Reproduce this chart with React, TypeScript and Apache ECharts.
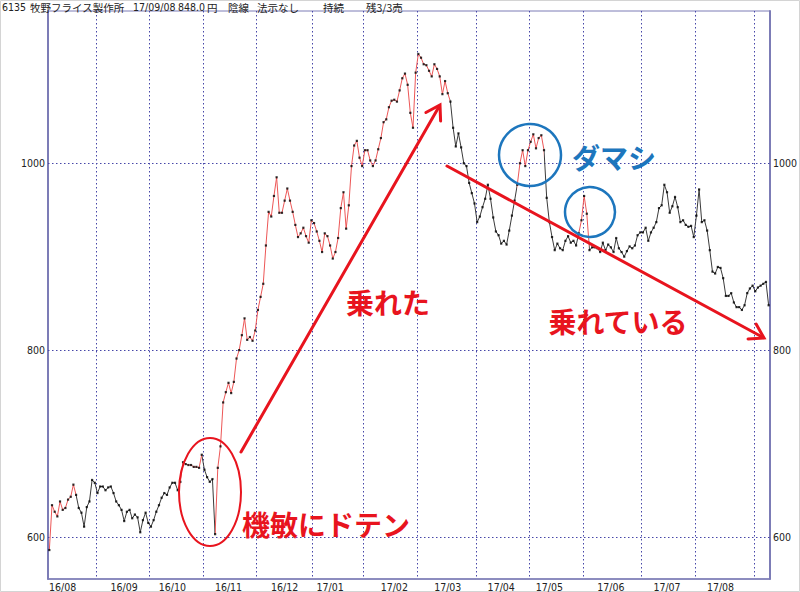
import React, { useEffect, useRef } from "react";
import * as echarts from "echarts";

// Daily closing prices (yen)
const prices: number[] = [
  586, 634, 627, 622, 638, 629, 631, 640, 643, 656,
  645, 631, 626, 611, 632, 638, 661, 658, 647, 654,
  654, 650, 653, 654, 647, 638, 634, 629, 617, 627,
  629, 620, 624, 621, 605, 618, 626, 615, 611, 618,
  627, 634, 642, 647, 645, 653, 658, 658, 650, 659,
  680, 678, 677, 677, 675, 675, 674, 688, 672, 664,
  659, 662, 603, 674, 697, 744, 755, 765, 754, 766,
  791, 800, 816, 834, 811, 814, 810, 821, 843, 857,
  871, 912, 948, 943, 965, 985, 947, 947, 960, 973,
  960, 948, 934, 921, 925, 931, 922, 915, 939, 936,
  927, 917, 905, 925, 922, 912, 898, 905, 920, 952,
  969, 930, 955, 997, 1019, 1024, 1006, 997, 1014, 1014,
  1003, 997, 1003, 1015, 1027, 1044, 1047, 1060, 1067, 1068,
  1066, 1078, 1091, 1096, 1084, 1054, 1038, 1097, 1117, 1113,
  1106, 1105, 1099, 1093, 1106, 1101, 1093, 1074, 1088, 1075,
  1066, 1038, 1018, 1032, 1017, 1000, 997, 979, 968, 957,
  937, 943, 953, 962, 977, 962, 942, 927, 923, 914,
  917, 913, 928, 944, 960, 977, 1000, 1014, 997, 1014,
  1023, 1031, 1016, 1027, 1030, 1014, 963, 937, 921, 907,
  914, 909, 907, 917, 922, 915, 917, 912, 925, 939,
  965, 946, 907, 910, 910, 909, 905, 915, 907, 913,
  910, 905, 920, 909, 905, 900, 906, 911, 909, 912,
  923, 926, 926, 931, 917, 926, 931, 937, 952, 955,
  977, 969, 947, 954, 964, 953, 937, 939, 934, 932,
  933, 921, 944, 972, 937, 939, 928, 907, 884, 882,
  889, 888, 877, 858, 858, 861, 851, 846, 846, 843,
  848, 861, 866, 869, 863, 867, 869, 871, 873, 848,
];

// bar-index ranges where the line is drawn red (signal "on")
const redRanges: [number, number][] = [
  [0, 10],
  [48, 57],
  [62, 150],
  [175, 185],
  [198, 202],
];

// month labels and where they sit (bar index), month-start bars (grid lines)
const monthLabels = ["16/08", "16/09", "16/10", "16/11", "16/12", "17/01", "17/02", "17/03", "17/04", "17/05", "17/06", "17/07", "17/08"];
const monthLabelIdx = [5, 28, 46, 67, 88, 105, 129, 149, 169, 187, 210, 231, 251];
const monthStartIdx = [18, 38, 58, 78, 99, 118, 138, 160, 180, 200, 222, 242, 264];

const yTickValues = [600, 800, 1000];

const headerParts: { text: string; x: number; latin: boolean }[] = [
  { text: "6135", x: 2, latin: true },
  { text: "牧野フライス製作所", x: 30, latin: false },
  { text: "17/09/08", x: 133, latin: true },
  { text: "848.0", x: 178, latin: true },
  { text: "円", x: 207, latin: false },
  { text: "陰線", x: 228, latin: false },
  { text: "法示なし", x: 257, latin: false },
  { text: "持続", x: 323, latin: false },
  { text: "残3/3売", x: 366, latin: false },
];

const RED = "#e8141e";
const BLUE = "#1d76bd";
const LINE_RED = "#ec5656";
const LINE_BLACK = "#3a3a3a";
const GRID_BLUE = "#4646a8";
const FRAME = "#7c7cb6";
const AX_FONT = "'DejaVu Sans Condensed', 'Liberation Sans Narrow', sans-serif";
const JP_FONT = "'Noto Sans CJK JP', sans-serif";

function arrow(x1: number, y1: number, x2: number, y2: number, len: number, angDeg: number) {
  const dx = x2 - x1;
  const dy = y2 - y1;
  const l = Math.sqrt(dx * dx + dy * dy);
  const ux = dx / l;
  const uy = dy / l;
  const a = (angDeg * Math.PI) / 180;
  const r1x = ux * Math.cos(a) - uy * Math.sin(a);
  const r1y = ux * Math.sin(a) + uy * Math.cos(a);
  const r2x = ux * Math.cos(-a) - uy * Math.sin(-a);
  const r2y = ux * Math.sin(-a) + uy * Math.cos(-a);
  return [
    {
      type: "line",
      z: 100,
      shape: { x1, y1, x2: x2 - ux * 1.5, y2: y2 - uy * 1.5 },
      style: { stroke: RED, lineWidth: 3, lineCap: "round" },
    },
    {
      type: "polyline",
      z: 100,
      shape: {
        points: [
          [x2 - r1x * len, y2 - r1y * len],
          [x2, y2],
          [x2 - r2x * len, y2 - r2y * len],
        ],
      },
      style: { stroke: RED, lineWidth: 3, fill: null, lineJoin: "miter", lineCap: "round" },
    },
  ];
}

function bigText(text: string, x: number, y: number, color: string, size: number) {
  return {
    type: "text",
    z: 100,
    x,
    y,
    style: {
      text,
      fill: color,
      font: `bold ${size}px ${JP_FONT}`,
      textAlign: "center",
      textVerticalAlign: "middle",
      align: "center",
      verticalAlign: "middle",
    },
  };
}

export default function App() {
  const ref = useRef<HTMLDivElement>(null);

  useEffect(() => {
    if (!ref.current) return;
    const chart = echarts.init(ref.current, null, { renderer: "svg" });

    const categories = prices.map((_, i) => String(i));
    const labelMap: Record<number, string> = {};
    monthLabelIdx.forEach((idx, k) => (labelMap[idx] = monthLabels[k]));
    const startSet = new Set(monthStartIdx);

    const pieces = redRanges.map(([a, b]) => ({ gte: a, lte: b, color: LINE_RED }));

    const yLabel = {
      customValues: yTickValues,
      formatter: (v: number) => String(v),
      color: "#222222",
      fontSize: 10.5,
      fontFamily: AX_FONT,
      margin: 3,
    };

    const yAxisBase = {
      type: "value",
      min: 555,
      max: 1163,
      axisLine: { show: true, lineStyle: { color: FRAME, width: 2 } },
      axisTick: { show: false },
      splitLine: { show: false },
      axisLabel: yLabel,
    };

    const graphic: any[] = [
      {
        type: "rect",
        z: -1,
        shape: { x: 0.5, y: 0.5, width: 799, height: 591 },
        style: { fill: "#ffffff", stroke: "#d4d4d4", lineWidth: 1 },
      },
      ...headerParts.map((p) => ({
        type: "text",
        z: 50,
        x: p.x,
        y: 7,
        style: {
          text: p.text,
          fill: "#222222",
          font: p.latin ? `10.5px ${AX_FONT}` : `10.5px ${JP_FONT}`,
          lineHeight: 11,
          textAlign: "left",
          textVerticalAlign: "middle",
          align: "left",
          verticalAlign: "middle",
        },
      })),
      {
        type: "ellipse",
        z: 100,
        shape: { cx: 210, cy: 492, rx: 31, ry: 54 },
        style: { fill: null, stroke: RED, lineWidth: 2 },
      },
      {
        type: "circle",
        z: 100,
        shape: { cx: 530, cy: 155, r: 31 },
        style: { fill: null, stroke: BLUE, lineWidth: 2.5 },
      },
      {
        type: "circle",
        z: 100,
        shape: { cx: 590, cy: 212, r: 25 },
        style: { fill: null, stroke: BLUE, lineWidth: 2.5 },
      },
      ...arrow(241, 452, 440, 105, 16, 32),
      ...arrow(447, 166, 764, 338, 16, 32),
      bigText("機敏にドテン", 326, 524, RED, 28),
      bigText("乗れた", 388, 302, RED, 28),
      bigText("乗れている", 618, 321, RED, 28),
      bigText("ダマシ", 614, 157, BLUE, 28),
    ];

    const option: any = {
      animation: false,
      backgroundColor: "#ffffff",
      grid: {
        left: 48,
        right: 29,
        top: 11,
        bottom: 13,
        show: true,
        borderColor: FRAME,
        borderWidth: 1,
        backgroundColor: "transparent",
      },
      xAxis: {
        type: "category",
        data: categories,
        boundaryGap: true,
        axisLine: { show: true, lineStyle: { color: FRAME, width: 1.5 } },
        axisTick: { show: false },
        axisLabel: {
          interval: (idx: number) => labelMap[idx] !== undefined,
          formatter: (_v: string, idx: number) => labelMap[idx] || "",
          color: "#222222",
          fontSize: 10.5,
          fontFamily: AX_FONT,
          margin: 2,
        },
        splitLine: {
          show: true,
          interval: (idx: number) => startSet.has(idx),
          lineStyle: { color: GRID_BLUE, width: 1, type: [1.5, 2.5] },
        },
      },
      yAxis: [
        { ...yAxisBase, position: "left" },
        { ...yAxisBase, position: "right" },
      ],
      visualMap: {
        type: "piecewise",
        show: false,
        dimension: 0,
        seriesIndex: 0,
        pieces,
        outOfRange: { color: LINE_BLACK },
      },
      series: [
        {
          type: "line",
          data: prices,
          yAxisIndex: 0,
          showSymbol: false,
          symbol: "none",
          silent: true,
          z: 2,
          lineStyle: { width: 1 },
        },
        {
          type: "scatter",
          data: prices,
          yAxisIndex: 0,
          symbol: "rect",
          symbolSize: 2.2,
          silent: true,
          z: 3,
          itemStyle: { color: "#000000" },
          markLine: {
            silent: true,
            symbol: ["none", "none"],
            label: { show: false },
            lineStyle: { color: GRID_BLUE, width: 1, type: [1.5, 2.5] },
            z: 1,
            data: yTickValues.map((v) => ({ yAxis: v })),
          },
        },
      ],
      graphic,
    };

    chart.setOption(option);
    return () => chart.dispose();
  }, []);

  return (
    <div
      ref={ref}
      style={{ position: "absolute", left: 0, top: 0, width: 800, height: 592, background: "#fff" }}
    />
  );
}
